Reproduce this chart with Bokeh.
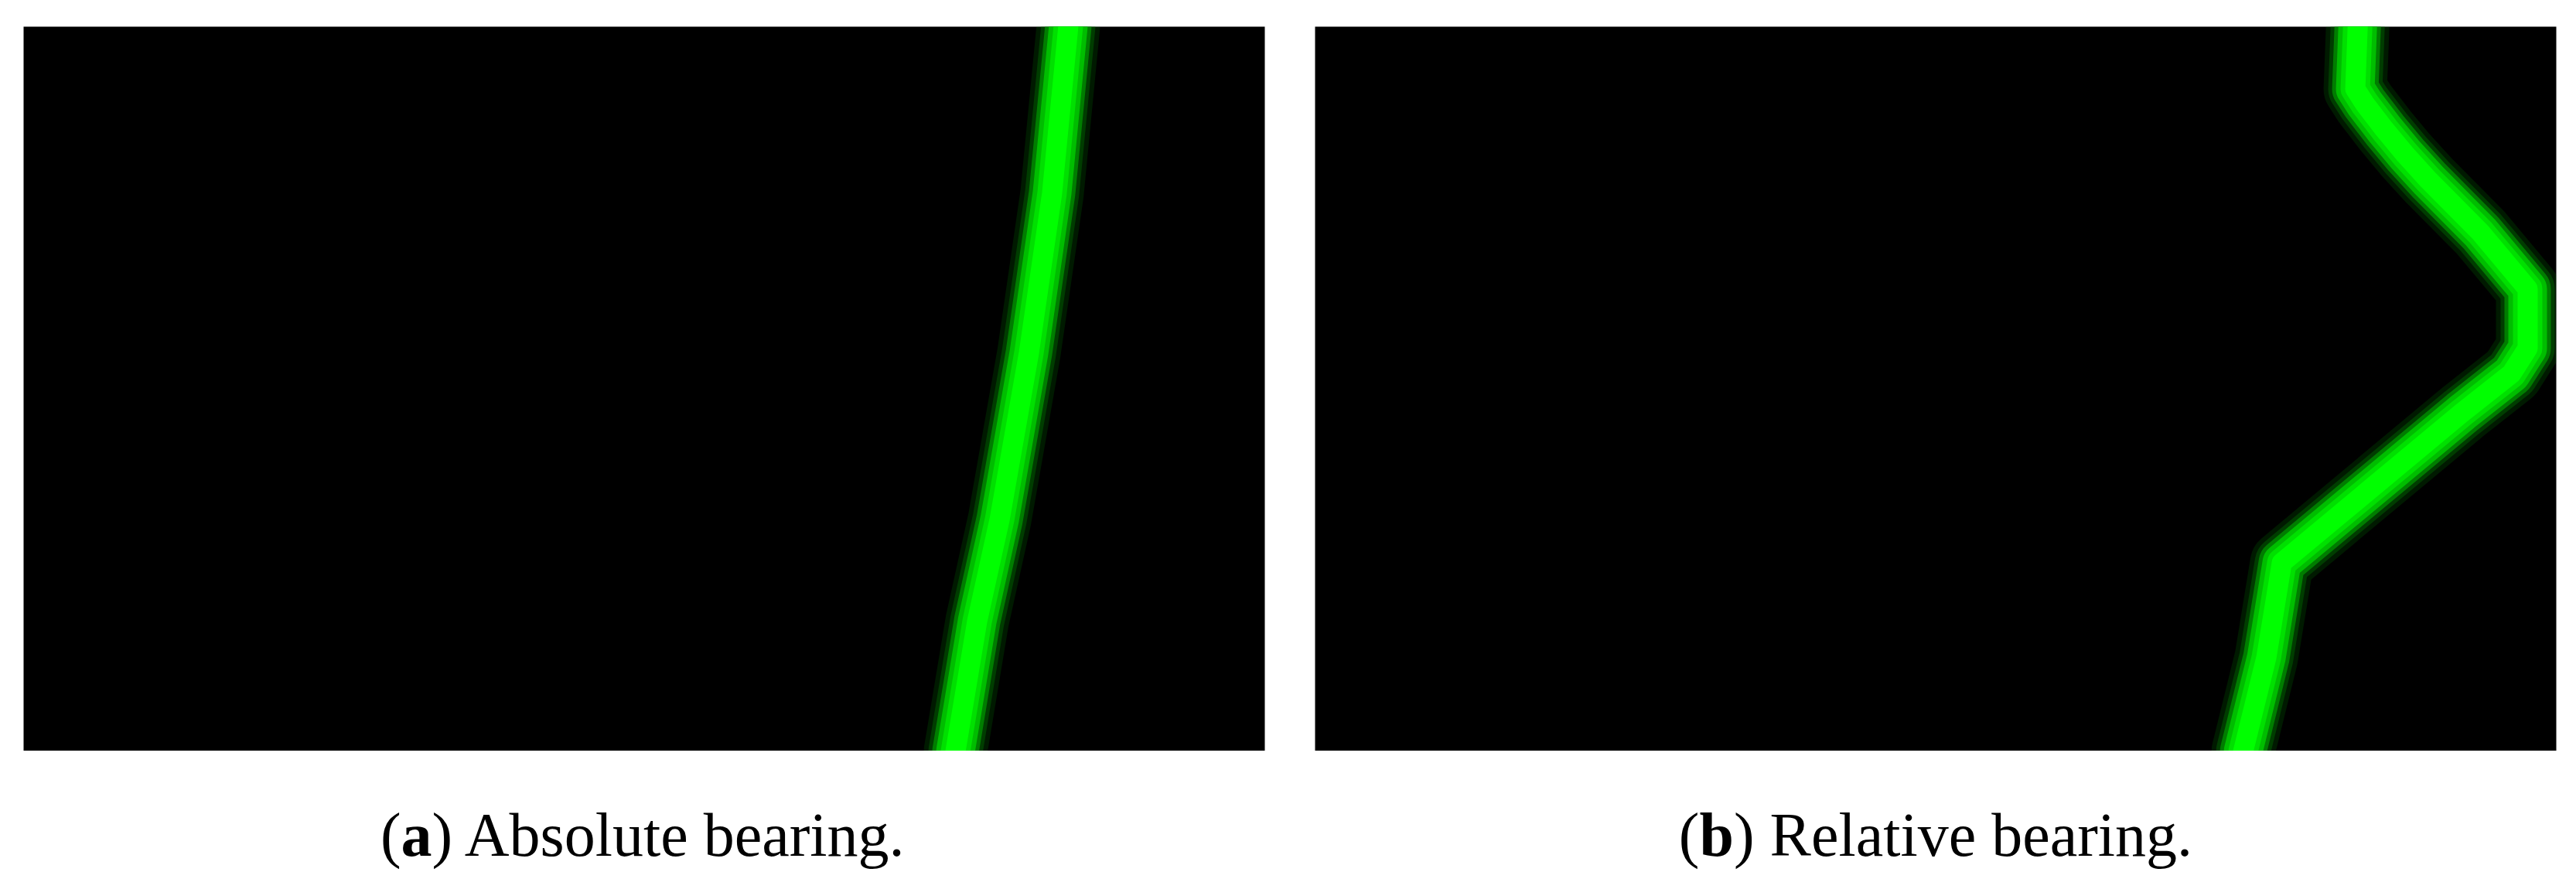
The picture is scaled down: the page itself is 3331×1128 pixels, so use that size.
from bokeh.plotting import figure
from bokeh.models import Range1d
from bokeh.layouts import row, column
from bokeh.core.properties import value
from bokeh.embed import file_html
from bokeh.resources import INLINE

# ---- data: bearing track (degrees) vs time (0 = top of display, 100 = bottom)
time_a = [0, 23, 45, 68, 82, 100]
bearing_a = [303.0, 298.3, 291.6, 283.1, 276.6, 270.3]

time_b = [0, 8.6, 10.6, 14.2, 17.7, 21.2, 28.4, 36.2, 44.4, 47.9, 53.3, 74.0, 87.1, 100]
bearing_b = [302.4, 301.7, 304.4, 310.2, 316.3, 323.0, 338.0, 351.7, 351.7, 347.0,
             332.6, 280.4, 275.9, 269.2]

captions = [("(", "a", ") Absolute bearing."), ("(", "b", ") Relative bearing.")]

FONT = "Liberation Serif"
FS = 80
FRAME_W, FRAME_H = 1605, 937
TOP = 34
CAP_H = 157

# band layers: (width, color, alpha) from outer ragged fringe to bright core
layers = [(82, "#00a000", 0.16), (70, "#008000", 0.35), (60, "#00a800", 0.6),
          (50, "#00c400", 0.9), (38, "#00e000", 1.0), (26, "#00ff00", 1.0)]


def make_panel(bearing, time, left, right):
    p = figure(width=left + FRAME_W + right, height=TOP + FRAME_H,
               x_range=Range1d(0, 360), y_range=Range1d(100, 0),
               output_backend="svg", toolbar_location=None,
               x_axis_location=None, y_axis_location=None,
               min_border_left=left, min_border_right=right,
               min_border_top=TOP, min_border_bottom=0)
    p.grid.visible = False
    p.outline_line_color = None
    p.background_fill_color = "black"
    p.border_fill_color = "white"
    for w, c, a in layers:
        p.line(bearing, time, line_width=w, line_color=c, line_alpha=a,
               line_join="round", line_cap="round")
    return p


def make_caption(cap, widths, left, right):
    c = figure(width=left + FRAME_W + right, height=CAP_H,
               x_range=Range1d(0, FRAME_W), y_range=Range1d(CAP_H, 0),
               output_backend="svg", toolbar_location=None,
               x_axis_location=None, y_axis_location=None,
               min_border_left=left, min_border_right=right,
               min_border_top=0, min_border_bottom=0)
    c.grid.visible = False
    c.outline_line_color = None
    c.background_fill_color = "white"
    c.border_fill_color = "white"
    w0, w1, w2 = widths
    x0 = FRAME_W / 2 - (w0 + w1 + w2) / 2
    y = 108
    c.text(x=[x0, x0 + w0 + w1], y=[y, y], text=[cap[0], cap[2]],
           text_font=value(FONT), text_font_size=value(f"{FS}px"),
           text_color="black", text_baseline="alphabetic", text_align="left")
    c.text(x=[x0 + w0], y=[y], text=[cap[1]],
           text_font=value(FONT), text_font_size=value(f"{FS}px"),
           text_font_style="bold",
           text_color="black", text_baseline="alphabetic", text_align="left")
    return c


pa = make_panel(bearing_a, time_a, 30, 35)
pb = make_panel(bearing_b, time_b, 30, 26)
ca = make_caption(captions[0], (0.333 * FS, 0.5 * FS, 7.693 * FS), 30, 35)
cb = make_caption(captions[1], (0.333 * FS, 0.556 * FS, 7.415 * FS), 30, 26)

layout = column(row(pa, pb), row(ca, cb))
open("out.html", "w").write(file_html(layout, INLINE))
